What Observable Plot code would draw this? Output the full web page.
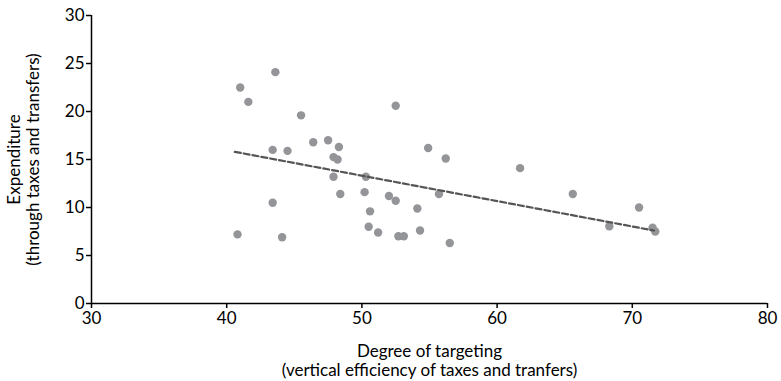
<!DOCTYPE html>
<html><head><meta charset="utf-8">
<script src="https://cdn.jsdelivr.net/npm/d3@7"></script>
<script src="https://cdn.jsdelivr.net/npm/@observablehq/plot@0.6"></script>
<style>body{margin:0;background:#fff}</style>
</head><body><div id="chart"></div>
<script>
const targeting = [40.8,41.0,41.6,43.4,43.4,43.6,44.1,44.5,45.5,46.4,47.5,47.9,48.2,47.9,48.3,48.4,50.2,50.3,50.6,50.5,51.2,52.0,52.5,52.5,52.7,53.1,54.1,54.3,54.9,55.7,56.2,56.5,61.7,65.6,68.3,70.5,71.5,71.7];
const expenditure = [7.2,22.5,21.0,16.0,10.5,24.1,6.9,15.9,19.6,16.8,17.0,15.25,15.0,13.2,16.3,11.4,11.6,13.2,9.6,8.0,7.4,11.2,10.7,20.6,7.0,7.0,9.9,7.6,16.2,11.4,15.1,6.3,14.1,11.4,8.05,10.0,7.9,7.5];
const trendX = [40.6, 71.6];
const trendY = [15.8, 7.6];
const xTicks = [30,40,50,60,70,80];
const yTicks = [0,5,10,15,20,25,30];
const xTitle = "Degree of targeting\n(vertical efficiency of taxes and tranfers)";
const yTitle = "Expenditure\n(through taxes and transfers)";

const points = targeting.map((x,i)=>({x, y: expenditure[i]}));
const trend = trendX.map((x,i)=>({x, y: trendY[i]}));
const FS = 17;

const chart = Plot.plot({
  width: 781, height: 381,
  marginLeft: 91, marginRight: 14, marginTop: 15, marginBottom: 78,
  style: {fontFamily: "Lato, sans-serif", fontSize: FS + "px", color: "#000", background: "#fff"},
  x: {domain: [30,80]},
  y: {domain: [0,30]},
  marks: [
    Plot.axisX({ticks: xTicks, tickSize: 5, tickPadding: 3, label: null, stroke: "#000", strokeWidth: 1.5, fontSize: FS}),
    Plot.axisY({ticks: yTicks, tickSize: 5, tickPadding: 2, label: null, stroke: "#000", strokeWidth: 1.5, fontSize: FS}),
    Plot.ruleY([0], {stroke: "#000", strokeWidth: 1.5}),
    Plot.ruleX([30], {stroke: "#000", strokeWidth: 1.5}),
    Plot.dot(points, {x: "x", y: "y", r: 4.2, fill: "#939598", stroke: "none"}),
    Plot.line(trend, {x: "x", y: "y", stroke: "#555", strokeWidth: 2.2, strokeDasharray: "6,3"}),
    Plot.text([xTitle], {text: d=>d, frameAnchor: "bottom", dy: 57, lineAnchor: "middle", textAnchor: "middle", fontSize: FS, lineHeight: 1.12}),
    Plot.text([yTitle], {text: d=>d, frameAnchor: "left", dx: -68, rotate: -90, lineAnchor: "middle", textAnchor: "middle", fontSize: FS, lineHeight: 1.1})
  ]
});
document.getElementById("chart").appendChild(chart);
</script></body></html>
